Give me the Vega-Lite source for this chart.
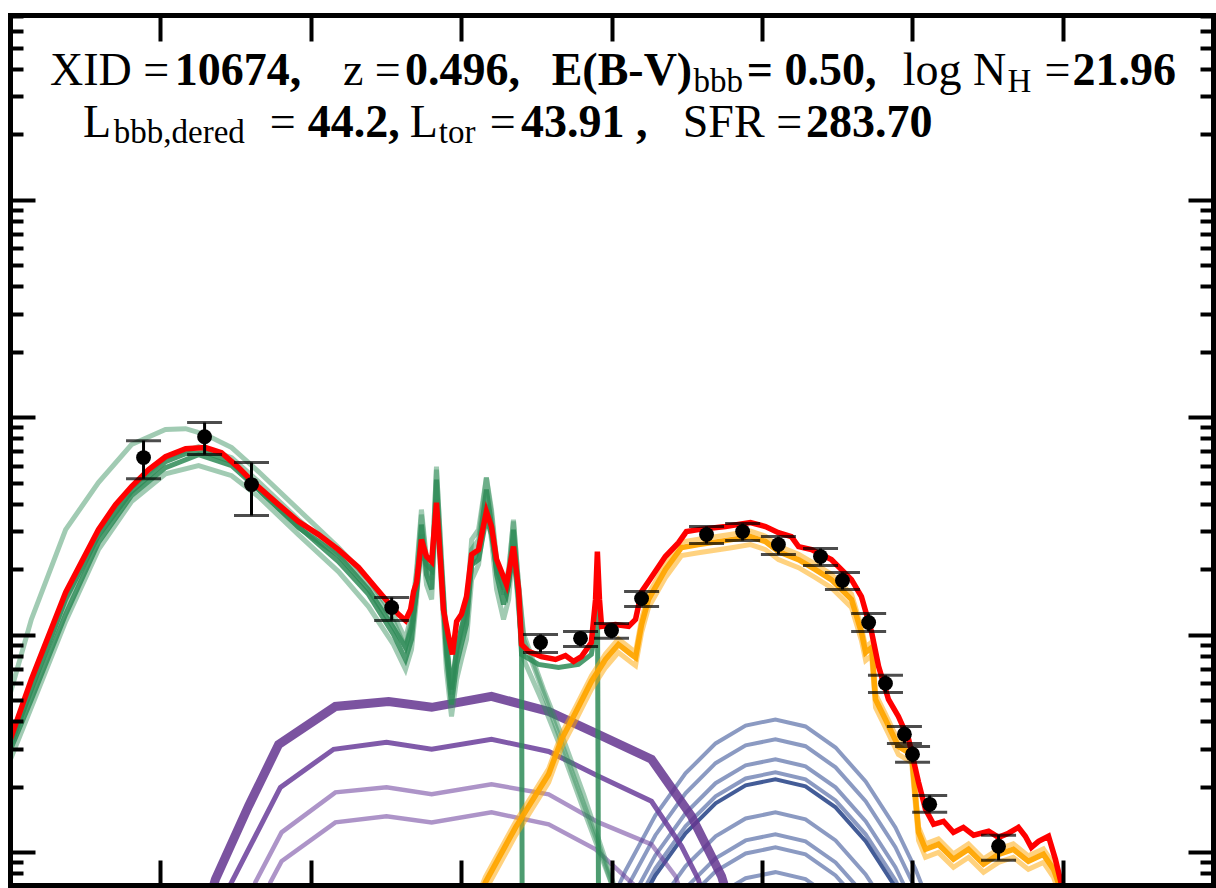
{
  "$schema": "https://vega.github.io/schema/vega-lite/v6.json",
  "width": 1203,
  "height": 870,
  "autosize": {"type": "none"},
  "padding": {"left": 10, "top": 15, "right": 3, "bottom": 3},
  "background": "white",
  "config": {"view": {"stroke": null}},
  "datasets": {
    "phot": [
      {"lognu": 12.444, "logL": 44.815, "lo": 44.718, "hi": 44.893},
      {"lognu": 12.647, "logL": 44.911, "lo": 44.829, "hi": 44.976},
      {"lognu": 12.803, "logL": 44.691, "lo": 44.549, "hi": 44.792},
      {"lognu": 13.269, "logL": 44.126, "lo": 44.066, "hi": 44.172},
      {"lognu": 13.764, "logL": 43.965, "lo": 43.919, "hi": 44.002},
      {"lognu": 13.897, "logL": 43.984, "lo": 43.947, "hi": 44.016},
      {"lognu": 14.000, "logL": 44.020, "lo": 43.984, "hi": 44.052},
      {"lognu": 14.100, "logL": 44.167, "lo": 44.131, "hi": 44.199},
      {"lognu": 14.316, "logL": 44.461, "lo": 44.420, "hi": 44.498},
      {"lognu": 14.436, "logL": 44.475, "lo": 44.434, "hi": 44.512},
      {"lognu": 14.555, "logL": 44.415, "lo": 44.369, "hi": 44.452},
      {"lognu": 14.695, "logL": 44.360, "lo": 44.319, "hi": 44.397},
      {"lognu": 14.768, "logL": 44.250, "lo": 44.209, "hi": 44.287},
      {"lognu": 14.855, "logL": 44.057, "lo": 44.016, "hi": 44.098},
      {"lognu": 14.911, "logL": 43.777, "lo": 43.735, "hi": 43.814},
      {"lognu": 14.974, "logL": 43.543, "lo": 43.501, "hi": 43.579},
      {"lognu": 15.001, "logL": 43.451, "lo": 43.414, "hi": 43.487},
      {"lognu": 15.058, "logL": 43.221, "lo": 43.184, "hi": 43.262},
      {"lognu": 15.287, "logL": 43.028, "lo": 42.964, "hi": 43.079}
    ],
    "total": [
      {"lognu": 11.995, "logL": 43.496}, {"lognu": 12.071, "logL": 43.795}, {"lognu": 12.185, "logL": 44.195},
      {"lognu": 12.294, "logL": 44.484}, {"lognu": 12.351, "logL": 44.599}, {"lognu": 12.404, "logL": 44.682},
      {"lognu": 12.461, "logL": 44.760}, {"lognu": 12.517, "logL": 44.819}, {"lognu": 12.584, "logL": 44.856},
      {"lognu": 12.650, "logL": 44.861}, {"lognu": 12.703, "logL": 44.838}, {"lognu": 12.760, "logL": 44.769},
      {"lognu": 12.810, "logL": 44.700}, {"lognu": 12.893, "logL": 44.599}, {"lognu": 12.959, "logL": 44.521},
      {"lognu": 13.026, "logL": 44.461}, {"lognu": 13.092, "logL": 44.392}, {"lognu": 13.159, "logL": 44.310},
      {"lognu": 13.235, "logL": 44.186}, {"lognu": 13.292, "logL": 44.094}, {"lognu": 13.315, "logL": 44.066},
      {"lognu": 13.332, "logL": 44.117}, {"lognu": 13.342, "logL": 44.199}, {"lognu": 13.352, "logL": 44.241},
      {"lognu": 13.368, "logL": 44.438}, {"lognu": 13.385, "logL": 44.360}, {"lognu": 13.402, "logL": 44.337},
      {"lognu": 13.418, "logL": 44.608}, {"lognu": 13.431, "logL": 44.346}, {"lognu": 13.441, "logL": 44.117},
      {"lognu": 13.458, "logL": 43.993}, {"lognu": 13.471, "logL": 43.910}, {"lognu": 13.485, "logL": 44.062},
      {"lognu": 13.501, "logL": 44.094}, {"lognu": 13.518, "logL": 44.176}, {"lognu": 13.535, "logL": 44.369},
      {"lognu": 13.558, "logL": 44.392}, {"lognu": 13.584, "logL": 44.567}, {"lognu": 13.601, "logL": 44.498},
      {"lognu": 13.618, "logL": 44.346}, {"lognu": 13.651, "logL": 44.231}, {"lognu": 13.674, "logL": 44.406},
      {"lognu": 13.691, "logL": 44.209}, {"lognu": 13.701, "logL": 43.956}, {"lognu": 13.724, "logL": 43.924},
      {"lognu": 13.767, "logL": 43.900}, {"lognu": 13.814, "logL": 43.887}, {"lognu": 13.847, "logL": 43.905},
      {"lognu": 13.874, "logL": 43.878}, {"lognu": 13.900, "logL": 43.900}, {"lognu": 13.933, "logL": 43.965},
      {"lognu": 13.947, "logL": 44.163}, {"lognu": 13.953, "logL": 44.383}, {"lognu": 13.960, "logL": 44.163},
      {"lognu": 13.967, "logL": 44.039}, {"lognu": 14.013, "logL": 44.048}, {"lognu": 14.057, "logL": 44.039},
      {"lognu": 14.080, "logL": 44.071}, {"lognu": 14.100, "logL": 44.199}, {"lognu": 14.123, "logL": 44.245},
      {"lognu": 14.179, "logL": 44.360}, {"lognu": 14.223, "logL": 44.424}, {"lognu": 14.249, "logL": 44.475},
      {"lognu": 14.289, "logL": 44.484}, {"lognu": 14.379, "logL": 44.498}, {"lognu": 14.462, "logL": 44.516},
      {"lognu": 14.512, "logL": 44.498}, {"lognu": 14.555, "logL": 44.470}, {"lognu": 14.598, "logL": 44.452},
      {"lognu": 14.622, "logL": 44.406}, {"lognu": 14.665, "logL": 44.392}, {"lognu": 14.731, "logL": 44.346},
      {"lognu": 14.798, "logL": 44.254}, {"lognu": 14.831, "logL": 44.176}, {"lognu": 14.865, "logL": 44.011},
      {"lognu": 14.888, "logL": 43.855}, {"lognu": 14.921, "logL": 43.703}, {"lognu": 14.954, "logL": 43.625},
      {"lognu": 14.988, "logL": 43.520}, {"lognu": 15.021, "logL": 43.322}, {"lognu": 15.044, "logL": 43.198},
      {"lognu": 15.071, "logL": 43.129}, {"lognu": 15.104, "logL": 43.143}, {"lognu": 15.137, "logL": 43.092},
      {"lognu": 15.170, "logL": 43.115}, {"lognu": 15.204, "logL": 43.079}, {"lognu": 15.254, "logL": 43.097},
      {"lognu": 15.287, "logL": 43.069}, {"lognu": 15.320, "logL": 43.088}, {"lognu": 15.353, "logL": 43.115},
      {"lognu": 15.376, "logL": 43.074}, {"lognu": 15.396, "logL": 43.023}, {"lognu": 15.420, "logL": 43.051},
      {"lognu": 15.453, "logL": 43.074}, {"lognu": 15.476, "logL": 42.968}, {"lognu": 15.496, "logL": 42.853},
      {"lognu": 15.503, "logL": 42.784}
    ],
    "starburst": [
      {"id": "A", "lognu": 11.995, "logL": 43.703}, {"id": "A", "lognu": 12.071, "logL": 44.071}, {"id": "A", "lognu": 12.185, "logL": 44.484},
      {"id": "A", "lognu": 12.294, "logL": 44.700}, {"id": "A", "lognu": 12.404, "logL": 44.875}, {"id": "A", "lognu": 12.517, "logL": 44.944},
      {"id": "A", "lognu": 12.584, "logL": 44.948}, {"id": "A", "lognu": 12.650, "logL": 44.921}, {"id": "A", "lognu": 12.737, "logL": 44.861},
      {"id": "A", "lognu": 12.826, "logL": 44.751}, {"id": "A", "lognu": 12.959, "logL": 44.576}, {"id": "A", "lognu": 13.092, "logL": 44.402},
      {"id": "A", "lognu": 13.192, "logL": 44.254}, {"id": "A", "lognu": 13.275, "logL": 44.094}, {"id": "A", "lognu": 13.315, "logL": 43.979},
      {"id": "A", "lognu": 13.335, "logL": 44.094}, {"id": "A", "lognu": 13.352, "logL": 44.300}, {"id": "A", "lognu": 13.368, "logL": 44.576},
      {"id": "A", "lognu": 13.385, "logL": 44.346}, {"id": "A", "lognu": 13.402, "logL": 44.277}, {"id": "A", "lognu": 13.418, "logL": 44.760},
      {"id": "A", "lognu": 13.435, "logL": 44.346}, {"id": "A", "lognu": 13.451, "logL": 43.979}, {"id": "A", "lognu": 13.468, "logL": 43.749},
      {"id": "A", "lognu": 13.485, "logL": 43.933}, {"id": "A", "lognu": 13.501, "logL": 44.025}, {"id": "A", "lognu": 13.518, "logL": 44.117},
      {"id": "A", "lognu": 13.535, "logL": 44.438}, {"id": "A", "lognu": 13.558, "logL": 44.484}, {"id": "A", "lognu": 13.584, "logL": 44.723},
      {"id": "A", "lognu": 13.601, "logL": 44.576}, {"id": "A", "lognu": 13.618, "logL": 44.346}, {"id": "A", "lognu": 13.641, "logL": 44.209},
      {"id": "A", "lognu": 13.658, "logL": 44.300}, {"id": "A", "lognu": 13.674, "logL": 44.521}, {"id": "A", "lognu": 13.691, "logL": 44.231},
      {"id": "A", "lognu": 13.708, "logL": 43.979}, {"id": "A", "lognu": 13.757, "logL": 43.795}, {"id": "A", "lognu": 13.824, "logL": 43.542},
      {"id": "A", "lognu": 13.890, "logL": 43.290}, {"id": "A", "lognu": 13.957, "logL": 43.037}, {"id": "A", "lognu": 14.007, "logL": 42.831},

      {"id": "B", "lognu": 11.995, "logL": 43.451}, {"id": "B", "lognu": 12.071, "logL": 43.703}, {"id": "B", "lognu": 12.185, "logL": 44.094},
      {"id": "B", "lognu": 12.294, "logL": 44.424}, {"id": "B", "lognu": 12.404, "logL": 44.640}, {"id": "B", "lognu": 12.517, "logL": 44.769},
      {"id": "B", "lognu": 12.627, "logL": 44.829}, {"id": "B", "lognu": 12.737, "logL": 44.778}, {"id": "B", "lognu": 12.826, "logL": 44.668},
      {"id": "B", "lognu": 12.959, "logL": 44.498}, {"id": "B", "lognu": 13.092, "logL": 44.337}, {"id": "B", "lognu": 13.192, "logL": 44.186},
      {"id": "B", "lognu": 13.275, "logL": 44.002}, {"id": "B", "lognu": 13.315, "logL": 43.887}, {"id": "B", "lognu": 13.335, "logL": 43.979},
      {"id": "B", "lognu": 13.352, "logL": 44.209}, {"id": "B", "lognu": 13.368, "logL": 44.507}, {"id": "B", "lognu": 13.385, "logL": 44.277},
      {"id": "B", "lognu": 13.402, "logL": 44.209}, {"id": "B", "lognu": 13.418, "logL": 44.714}, {"id": "B", "lognu": 13.435, "logL": 44.277},
      {"id": "B", "lognu": 13.451, "logL": 43.910}, {"id": "B", "lognu": 13.468, "logL": 43.680}, {"id": "B", "lognu": 13.485, "logL": 43.864},
      {"id": "B", "lognu": 13.501, "logL": 43.956}, {"id": "B", "lognu": 13.518, "logL": 44.048}, {"id": "B", "lognu": 13.535, "logL": 44.323},
      {"id": "B", "lognu": 13.558, "logL": 44.392}, {"id": "B", "lognu": 13.584, "logL": 44.668}, {"id": "B", "lognu": 13.601, "logL": 44.507},
      {"id": "B", "lognu": 13.618, "logL": 44.277}, {"id": "B", "lognu": 13.641, "logL": 44.140}, {"id": "B", "lognu": 13.658, "logL": 44.231},
      {"id": "B", "lognu": 13.674, "logL": 44.484}, {"id": "B", "lognu": 13.691, "logL": 44.186}, {"id": "B", "lognu": 13.701, "logL": 43.933},
      {"id": "B", "lognu": 13.703, "logL": 42.700},

      {"id": "C", "lognu": 11.995, "logL": 43.405}, {"id": "C", "lognu": 12.071, "logL": 43.667}, {"id": "C", "lognu": 12.185, "logL": 44.062},
      {"id": "C", "lognu": 12.294, "logL": 44.392}, {"id": "C", "lognu": 12.404, "logL": 44.613}, {"id": "C", "lognu": 12.517, "logL": 44.741},
      {"id": "C", "lognu": 12.627, "logL": 44.778}, {"id": "C", "lognu": 12.737, "logL": 44.732}, {"id": "C", "lognu": 12.826, "logL": 44.636},
      {"id": "C", "lognu": 12.959, "logL": 44.461}, {"id": "C", "lognu": 13.092, "logL": 44.291}, {"id": "C", "lognu": 13.192, "logL": 44.130},
      {"id": "C", "lognu": 13.275, "logL": 43.956}, {"id": "C", "lognu": 13.315, "logL": 43.841}, {"id": "C", "lognu": 13.335, "logL": 43.933},
      {"id": "C", "lognu": 13.352, "logL": 44.163}, {"id": "C", "lognu": 13.368, "logL": 44.461}, {"id": "C", "lognu": 13.385, "logL": 44.231},
      {"id": "C", "lognu": 13.402, "logL": 44.163}, {"id": "C", "lognu": 13.418, "logL": 44.622}, {"id": "C", "lognu": 13.435, "logL": 44.209},
      {"id": "C", "lognu": 13.451, "logL": 43.841}, {"id": "C", "lognu": 13.468, "logL": 43.625}, {"id": "C", "lognu": 13.485, "logL": 43.795},
      {"id": "C", "lognu": 13.501, "logL": 43.887}, {"id": "C", "lognu": 13.518, "logL": 43.979}, {"id": "C", "lognu": 13.535, "logL": 44.254},
      {"id": "C", "lognu": 13.558, "logL": 44.323}, {"id": "C", "lognu": 13.584, "logL": 44.599}, {"id": "C", "lognu": 13.601, "logL": 44.438},
      {"id": "C", "lognu": 13.618, "logL": 44.209}, {"id": "C", "lognu": 13.641, "logL": 44.071}, {"id": "C", "lognu": 13.658, "logL": 44.163},
      {"id": "C", "lognu": 13.674, "logL": 44.415}, {"id": "C", "lognu": 13.691, "logL": 44.117}, {"id": "C", "lognu": 13.708, "logL": 43.887},
      {"id": "C", "lognu": 13.774, "logL": 43.680}, {"id": "C", "lognu": 13.840, "logL": 43.451}, {"id": "C", "lognu": 13.907, "logL": 43.198},
      {"id": "C", "lognu": 13.957, "logL": 43.014}, {"id": "C", "lognu": 14.007, "logL": 42.831},

      {"id": "D", "lognu": 11.995, "logL": 43.496}, {"id": "D", "lognu": 12.071, "logL": 43.758}, {"id": "D", "lognu": 12.185, "logL": 44.140},
      {"id": "D", "lognu": 12.294, "logL": 44.461}, {"id": "D", "lognu": 12.404, "logL": 44.677}, {"id": "D", "lognu": 12.517, "logL": 44.815},
      {"id": "D", "lognu": 12.627, "logL": 44.865}, {"id": "D", "lognu": 12.737, "logL": 44.815}, {"id": "D", "lognu": 12.826, "logL": 44.705},
      {"id": "D", "lognu": 12.959, "logL": 44.530}, {"id": "D", "lognu": 13.092, "logL": 44.374}, {"id": "D", "lognu": 13.192, "logL": 44.227},
      {"id": "D", "lognu": 13.275, "logL": 44.062}, {"id": "D", "lognu": 13.315, "logL": 43.942}, {"id": "D", "lognu": 13.335, "logL": 44.062},
      {"id": "D", "lognu": 13.352, "logL": 44.277}, {"id": "D", "lognu": 13.368, "logL": 44.553}, {"id": "D", "lognu": 13.385, "logL": 44.323},
      {"id": "D", "lognu": 13.402, "logL": 44.254}, {"id": "D", "lognu": 13.418, "logL": 44.774}, {"id": "D", "lognu": 13.435, "logL": 44.323},
      {"id": "D", "lognu": 13.451, "logL": 43.956}, {"id": "D", "lognu": 13.468, "logL": 43.726}, {"id": "D", "lognu": 13.485, "logL": 43.910},
      {"id": "D", "lognu": 13.501, "logL": 44.002}, {"id": "D", "lognu": 13.518, "logL": 44.094}, {"id": "D", "lognu": 13.535, "logL": 44.392},
      {"id": "D", "lognu": 13.558, "logL": 44.438}, {"id": "D", "lognu": 13.584, "logL": 44.723}, {"id": "D", "lognu": 13.601, "logL": 44.553},
      {"id": "D", "lognu": 13.618, "logL": 44.323}, {"id": "D", "lognu": 13.641, "logL": 44.186}, {"id": "D", "lognu": 13.658, "logL": 44.277},
      {"id": "D", "lognu": 13.674, "logL": 44.530}, {"id": "D", "lognu": 13.691, "logL": 44.231}, {"id": "D", "lognu": 13.708, "logL": 44.002},
      {"id": "D", "lognu": 13.774, "logL": 43.749}, {"id": "D", "lognu": 13.840, "logL": 43.520}, {"id": "D", "lognu": 13.907, "logL": 43.267},
      {"id": "D", "lognu": 13.957, "logL": 43.060}, {"id": "D", "lognu": 14.007, "logL": 42.853},

      {"id": "E", "lognu": 11.995, "logL": 43.464}, {"id": "E", "lognu": 12.071, "logL": 43.749}, {"id": "E", "lognu": 12.185, "logL": 44.163},
      {"id": "E", "lognu": 12.294, "logL": 44.457}, {"id": "E", "lognu": 12.404, "logL": 44.659}, {"id": "E", "lognu": 12.517, "logL": 44.796},
      {"id": "E", "lognu": 12.584, "logL": 44.833}, {"id": "E", "lognu": 12.650, "logL": 44.838}, {"id": "E", "lognu": 12.737, "logL": 44.796},
      {"id": "E", "lognu": 12.826, "logL": 44.668}, {"id": "E", "lognu": 12.959, "logL": 44.493}, {"id": "E", "lognu": 13.092, "logL": 44.365},
      {"id": "E", "lognu": 13.192, "logL": 44.209}, {"id": "E", "lognu": 13.275, "logL": 44.034}, {"id": "E", "lognu": 13.315, "logL": 43.942},
      {"id": "E", "lognu": 13.335, "logL": 44.034}, {"id": "E", "lognu": 13.352, "logL": 44.199}, {"id": "E", "lognu": 13.368, "logL": 44.402},
      {"id": "E", "lognu": 13.385, "logL": 44.323}, {"id": "E", "lognu": 13.402, "logL": 44.300}, {"id": "E", "lognu": 13.418, "logL": 44.576},
      {"id": "E", "lognu": 13.435, "logL": 44.300}, {"id": "E", "lognu": 13.451, "logL": 43.956}, {"id": "E", "lognu": 13.468, "logL": 43.749},
      {"id": "E", "lognu": 13.485, "logL": 43.933}, {"id": "E", "lognu": 13.501, "logL": 44.034}, {"id": "E", "lognu": 13.518, "logL": 44.126},
      {"id": "E", "lognu": 13.535, "logL": 44.323}, {"id": "E", "lognu": 13.558, "logL": 44.346}, {"id": "E", "lognu": 13.584, "logL": 44.539},
      {"id": "E", "lognu": 13.601, "logL": 44.461}, {"id": "E", "lognu": 13.618, "logL": 44.300}, {"id": "E", "lognu": 13.651, "logL": 44.186},
      {"id": "E", "lognu": 13.674, "logL": 44.369}, {"id": "E", "lognu": 13.691, "logL": 44.163}, {"id": "E", "lognu": 13.701, "logL": 43.910},
      {"id": "E", "lognu": 13.757, "logL": 43.864}, {"id": "E", "lognu": 13.824, "logL": 43.850}, {"id": "E", "lognu": 13.890, "logL": 43.864},
      {"id": "E", "lognu": 13.933, "logL": 43.910}, {"id": "E", "lognu": 13.947, "logL": 44.025}, {"id": "E", "lognu": 13.953, "logL": 44.323},
      {"id": "E", "lognu": 13.957, "logL": 42.700}
    ],
    "host": [
      {"id": "O1", "lognu": 13.558, "logL": 42.784}, {"id": "O1", "lognu": 13.581, "logL": 42.863}, {"id": "O1", "lognu": 13.681, "logL": 43.115},
      {"id": "O1", "lognu": 13.791, "logL": 43.359}, {"id": "O1", "lognu": 13.834, "logL": 43.520}, {"id": "O1", "lognu": 13.881, "logL": 43.644},
      {"id": "O1", "lognu": 13.933, "logL": 43.786}, {"id": "O1", "lognu": 13.980, "logL": 43.887}, {"id": "O1", "lognu": 14.023, "logL": 43.956},
      {"id": "O1", "lognu": 14.066, "logL": 43.910}, {"id": "O1", "lognu": 14.080, "logL": 43.896}, {"id": "O1", "lognu": 14.100, "logL": 44.048},
      {"id": "O1", "lognu": 14.123, "logL": 44.163}, {"id": "O1", "lognu": 14.179, "logL": 44.300}, {"id": "O1", "lognu": 14.233, "logL": 44.402},
      {"id": "O1", "lognu": 14.289, "logL": 44.415}, {"id": "O1", "lognu": 14.399, "logL": 44.438}, {"id": "O1", "lognu": 14.462, "logL": 44.452},
      {"id": "O1", "lognu": 14.512, "logL": 44.429}, {"id": "O1", "lognu": 14.555, "logL": 44.383}, {"id": "O1", "lognu": 14.622, "logL": 44.346},
      {"id": "O1", "lognu": 14.678, "logL": 44.300}, {"id": "O1", "lognu": 14.731, "logL": 44.254}, {"id": "O1", "lognu": 14.798, "logL": 44.163},
      {"id": "O1", "lognu": 14.831, "logL": 44.011}, {"id": "O1", "lognu": 14.845, "logL": 43.919}, {"id": "O1", "lognu": 14.865, "logL": 43.942},
      {"id": "O1", "lognu": 14.878, "logL": 43.703}, {"id": "O1", "lognu": 14.911, "logL": 43.611}, {"id": "O1", "lognu": 14.954, "logL": 43.487},
      {"id": "O1", "lognu": 14.998, "logL": 43.451}, {"id": "O1", "lognu": 15.021, "logL": 43.092}, {"id": "O1", "lognu": 15.044, "logL": 43.014},
      {"id": "O1", "lognu": 15.087, "logL": 43.037}, {"id": "O1", "lognu": 15.137, "logL": 42.968}, {"id": "O1", "lognu": 15.187, "logL": 43.014},
      {"id": "O1", "lognu": 15.237, "logL": 42.945}, {"id": "O1", "lognu": 15.287, "logL": 42.991}, {"id": "O1", "lognu": 15.336, "logL": 43.014},
      {"id": "O1", "lognu": 15.386, "logL": 42.959}, {"id": "O1", "lognu": 15.436, "logL": 42.991}, {"id": "O1", "lognu": 15.470, "logL": 42.922},
      {"id": "O1", "lognu": 15.493, "logL": 42.831},

      {"id": "O2", "lognu": 13.558, "logL": 42.747}, {"id": "O2", "lognu": 13.581, "logL": 42.826}, {"id": "O2", "lognu": 13.681, "logL": 43.078},
      {"id": "O2", "lognu": 13.791, "logL": 43.322}, {"id": "O2", "lognu": 13.834, "logL": 43.483}, {"id": "O2", "lognu": 13.881, "logL": 43.607},
      {"id": "O2", "lognu": 13.933, "logL": 43.749}, {"id": "O2", "lognu": 13.980, "logL": 43.850}, {"id": "O2", "lognu": 14.023, "logL": 43.919},
      {"id": "O2", "lognu": 14.066, "logL": 43.873}, {"id": "O2", "lognu": 14.080, "logL": 43.859}, {"id": "O2", "lognu": 14.100, "logL": 44.011},
      {"id": "O2", "lognu": 14.123, "logL": 44.126}, {"id": "O2", "lognu": 14.179, "logL": 44.263}, {"id": "O2", "lognu": 14.233, "logL": 44.365},
      {"id": "O2", "lognu": 14.289, "logL": 44.378}, {"id": "O2", "lognu": 14.399, "logL": 44.401}, {"id": "O2", "lognu": 14.462, "logL": 44.415},
      {"id": "O2", "lognu": 14.512, "logL": 44.392}, {"id": "O2", "lognu": 14.555, "logL": 44.346}, {"id": "O2", "lognu": 14.622, "logL": 44.309},
      {"id": "O2", "lognu": 14.678, "logL": 44.263}, {"id": "O2", "lognu": 14.731, "logL": 44.217}, {"id": "O2", "lognu": 14.798, "logL": 44.126},
      {"id": "O2", "lognu": 14.831, "logL": 43.974}, {"id": "O2", "lognu": 14.845, "logL": 43.882}, {"id": "O2", "lognu": 14.865, "logL": 43.905},
      {"id": "O2", "lognu": 14.878, "logL": 43.666}, {"id": "O2", "lognu": 14.911, "logL": 43.574}, {"id": "O2", "lognu": 14.954, "logL": 43.450},
      {"id": "O2", "lognu": 14.998, "logL": 43.414}, {"id": "O2", "lognu": 15.021, "logL": 43.055}, {"id": "O2", "lognu": 15.044, "logL": 42.977},
      {"id": "O2", "lognu": 15.087, "logL": 43.000}, {"id": "O2", "lognu": 15.137, "logL": 42.931}, {"id": "O2", "lognu": 15.187, "logL": 42.977},
      {"id": "O2", "lognu": 15.237, "logL": 42.908}, {"id": "O2", "lognu": 15.287, "logL": 42.954}, {"id": "O2", "lognu": 15.336, "logL": 42.977},
      {"id": "O2", "lognu": 15.386, "logL": 42.922}, {"id": "O2", "lognu": 15.436, "logL": 42.954}, {"id": "O2", "lognu": 15.470, "logL": 42.885},
      {"id": "O2", "lognu": 15.493, "logL": 42.794},

      {"id": "O3", "lognu": 13.558, "logL": 42.809}, {"id": "O3", "lognu": 13.581, "logL": 42.888}, {"id": "O3", "lognu": 13.681, "logL": 43.140},
      {"id": "O3", "lognu": 13.791, "logL": 43.384}, {"id": "O3", "lognu": 13.834, "logL": 43.545}, {"id": "O3", "lognu": 13.881, "logL": 43.669},
      {"id": "O3", "lognu": 13.933, "logL": 43.811}, {"id": "O3", "lognu": 13.980, "logL": 43.912}, {"id": "O3", "lognu": 14.023, "logL": 43.981},
      {"id": "O3", "lognu": 14.066, "logL": 43.935}, {"id": "O3", "lognu": 14.080, "logL": 43.921}, {"id": "O3", "lognu": 14.100, "logL": 44.073},
      {"id": "O3", "lognu": 14.123, "logL": 44.188}, {"id": "O3", "lognu": 14.179, "logL": 44.325}, {"id": "O3", "lognu": 14.233, "logL": 44.427},
      {"id": "O3", "lognu": 14.289, "logL": 44.440}, {"id": "O3", "lognu": 14.399, "logL": 44.463}, {"id": "O3", "lognu": 14.462, "logL": 44.477},
      {"id": "O3", "lognu": 14.512, "logL": 44.454}, {"id": "O3", "lognu": 14.555, "logL": 44.408}, {"id": "O3", "lognu": 14.622, "logL": 44.371},
      {"id": "O3", "lognu": 14.678, "logL": 44.325}, {"id": "O3", "lognu": 14.731, "logL": 44.279}, {"id": "O3", "lognu": 14.798, "logL": 44.188},
      {"id": "O3", "lognu": 14.831, "logL": 44.036}, {"id": "O3", "lognu": 14.845, "logL": 43.944}, {"id": "O3", "lognu": 14.865, "logL": 43.967},
      {"id": "O3", "lognu": 14.878, "logL": 43.728}, {"id": "O3", "lognu": 14.911, "logL": 43.636}, {"id": "O3", "lognu": 14.954, "logL": 43.512},
      {"id": "O3", "lognu": 14.998, "logL": 43.476}, {"id": "O3", "lognu": 15.021, "logL": 43.117}, {"id": "O3", "lognu": 15.044, "logL": 43.039},
      {"id": "O3", "lognu": 15.087, "logL": 43.062}, {"id": "O3", "lognu": 15.137, "logL": 42.993}, {"id": "O3", "lognu": 15.187, "logL": 43.039},
      {"id": "O3", "lognu": 15.237, "logL": 42.970}, {"id": "O3", "lognu": 15.287, "logL": 43.016}, {"id": "O3", "lognu": 15.336, "logL": 43.039},
      {"id": "O3", "lognu": 15.386, "logL": 42.984}, {"id": "O3", "lognu": 15.436, "logL": 43.016}, {"id": "O3", "lognu": 15.470, "logL": 42.947},
      {"id": "O3", "lognu": 15.493, "logL": 42.856}
    ],
    "torus": [
      {"id": "P1", "lognu": 12.643, "logL": 42.693}, {"id": "P1", "lognu": 12.683, "logL": 42.876}, {"id": "P1", "lognu": 12.793, "logL": 43.212},
      {"id": "P1", "lognu": 12.893, "logL": 43.496}, {"id": "P1", "lognu": 13.082, "logL": 43.671}, {"id": "P1", "lognu": 13.259, "logL": 43.694},
      {"id": "P1", "lognu": 13.402, "logL": 43.667}, {"id": "P1", "lognu": 13.601, "logL": 43.717}, {"id": "P1", "lognu": 13.791, "logL": 43.648},
      {"id": "P1", "lognu": 13.957, "logL": 43.542}, {"id": "P1", "lognu": 14.133, "logL": 43.428}, {"id": "P1", "lognu": 14.266, "logL": 43.166},
      {"id": "P1", "lognu": 14.366, "logL": 42.890}, {"id": "P1", "lognu": 14.389, "logL": 42.784},

      {"id": "P2", "lognu": 12.666, "logL": 42.693}, {"id": "P2", "lognu": 12.737, "logL": 42.863}, {"id": "P2", "lognu": 12.899, "logL": 43.299},
      {"id": "P2", "lognu": 13.076, "logL": 43.474}, {"id": "P2", "lognu": 13.252, "logL": 43.506}, {"id": "P2", "lognu": 13.402, "logL": 43.474},
      {"id": "P2", "lognu": 13.601, "logL": 43.520}, {"id": "P2", "lognu": 13.791, "logL": 43.464}, {"id": "P2", "lognu": 13.957, "logL": 43.350},
      {"id": "P2", "lognu": 14.133, "logL": 43.235}, {"id": "P2", "lognu": 14.233, "logL": 43.028}, {"id": "P2", "lognu": 14.289, "logL": 42.876},
      {"id": "P2", "lognu": 14.306, "logL": 42.784},

      {"id": "P3", "lognu": 12.793, "logL": 42.739}, {"id": "P3", "lognu": 12.816, "logL": 42.863}, {"id": "P3", "lognu": 12.903, "logL": 43.092},
      {"id": "P3", "lognu": 13.082, "logL": 43.276}, {"id": "P3", "lognu": 13.252, "logL": 43.299}, {"id": "P3", "lognu": 13.402, "logL": 43.267},
      {"id": "P3", "lognu": 13.601, "logL": 43.313}, {"id": "P3", "lognu": 13.791, "logL": 43.267}, {"id": "P3", "lognu": 13.957, "logL": 43.138},
      {"id": "P3", "lognu": 14.133, "logL": 43.037}, {"id": "P3", "lognu": 14.213, "logL": 42.890}, {"id": "P3", "lognu": 14.233, "logL": 42.807},

      {"id": "P4", "lognu": 12.846, "logL": 42.784}, {"id": "P4", "lognu": 12.866, "logL": 42.863}, {"id": "P4", "lognu": 12.903, "logL": 42.959},
      {"id": "P4", "lognu": 13.082, "logL": 43.138}, {"id": "P4", "lognu": 13.252, "logL": 43.166}, {"id": "P4", "lognu": 13.402, "logL": 43.138},
      {"id": "P4", "lognu": 13.601, "logL": 43.184}, {"id": "P4", "lognu": 13.791, "logL": 43.129}, {"id": "P4", "lognu": 13.947, "logL": 43.014},
      {"id": "P4", "lognu": 14.090, "logL": 42.831}
    ],
    "bbb": [
      {"id": "B1", "lognu": 13.880, "logL": 42.380}, {"id": "B1", "lognu": 13.947, "logL": 42.614}, {"id": "B1", "lognu": 14.047, "logL": 42.917},
      {"id": "B1", "lognu": 14.146, "logL": 43.170}, {"id": "B1", "lognu": 14.246, "logL": 43.363}, {"id": "B1", "lognu": 14.346, "logL": 43.501},
      {"id": "B1", "lognu": 14.446, "logL": 43.583}, {"id": "B1", "lognu": 14.545, "logL": 43.611}, {"id": "B1", "lognu": 14.645, "logL": 43.579},
      {"id": "B1", "lognu": 14.745, "logL": 43.482}, {"id": "B1", "lognu": 14.845, "logL": 43.326}, {"id": "B1", "lognu": 14.944, "logL": 43.115},
      {"id": "B1", "lognu": 15.011, "logL": 42.922}, {"id": "B1", "lognu": 15.077, "logL": 42.692},

      {"id": "B2", "lognu": 13.880, "logL": 42.289}, {"id": "B2", "lognu": 13.947, "logL": 42.523}, {"id": "B2", "lognu": 14.047, "logL": 42.826},
      {"id": "B2", "lognu": 14.146, "logL": 43.079}, {"id": "B2", "lognu": 14.246, "logL": 43.272}, {"id": "B2", "lognu": 14.346, "logL": 43.410},
      {"id": "B2", "lognu": 14.446, "logL": 43.492}, {"id": "B2", "lognu": 14.545, "logL": 43.520}, {"id": "B2", "lognu": 14.645, "logL": 43.488},
      {"id": "B2", "lognu": 14.745, "logL": 43.391}, {"id": "B2", "lognu": 14.845, "logL": 43.235}, {"id": "B2", "lognu": 14.944, "logL": 43.024},
      {"id": "B2", "lognu": 15.011, "logL": 42.831}, {"id": "B2", "lognu": 15.077, "logL": 42.601},

      {"id": "B3", "lognu": 13.880, "logL": 42.197}, {"id": "B3", "lognu": 13.947, "logL": 42.431}, {"id": "B3", "lognu": 14.047, "logL": 42.734},
      {"id": "B3", "lognu": 14.146, "logL": 42.987}, {"id": "B3", "lognu": 14.246, "logL": 43.180}, {"id": "B3", "lognu": 14.346, "logL": 43.318},
      {"id": "B3", "lognu": 14.446, "logL": 43.400}, {"id": "B3", "lognu": 14.545, "logL": 43.428}, {"id": "B3", "lognu": 14.645, "logL": 43.396},
      {"id": "B3", "lognu": 14.745, "logL": 43.299}, {"id": "B3", "lognu": 14.845, "logL": 43.143}, {"id": "B3", "lognu": 14.944, "logL": 42.932},
      {"id": "B3", "lognu": 15.011, "logL": 42.739}, {"id": "B3", "lognu": 15.077, "logL": 42.509},

      {"id": "B4", "lognu": 13.880, "logL": 42.137}, {"id": "B4", "lognu": 13.947, "logL": 42.371}, {"id": "B4", "lognu": 14.047, "logL": 42.674},
      {"id": "B4", "lognu": 14.146, "logL": 42.927}, {"id": "B4", "lognu": 14.246, "logL": 43.120}, {"id": "B4", "lognu": 14.346, "logL": 43.258},
      {"id": "B4", "lognu": 14.446, "logL": 43.340}, {"id": "B4", "lognu": 14.545, "logL": 43.368}, {"id": "B4", "lognu": 14.645, "logL": 43.336},
      {"id": "B4", "lognu": 14.745, "logL": 43.239}, {"id": "B4", "lognu": 14.845, "logL": 43.083}, {"id": "B4", "lognu": 14.944, "logL": 42.872},
      {"id": "B4", "lognu": 15.011, "logL": 42.679}, {"id": "B4", "lognu": 15.077, "logL": 42.449},

      {"id": "B5", "lognu": 13.880, "logL": 42.105}, {"id": "B5", "lognu": 13.947, "logL": 42.339}, {"id": "B5", "lognu": 14.047, "logL": 42.642},
      {"id": "B5", "lognu": 14.146, "logL": 42.895}, {"id": "B5", "lognu": 14.246, "logL": 43.088}, {"id": "B5", "lognu": 14.346, "logL": 43.226},
      {"id": "B5", "lognu": 14.446, "logL": 43.308}, {"id": "B5", "lognu": 14.545, "logL": 43.336}, {"id": "B5", "lognu": 14.645, "logL": 43.304},
      {"id": "B5", "lognu": 14.745, "logL": 43.207}, {"id": "B5", "lognu": 14.845, "logL": 43.051}, {"id": "B5", "lognu": 14.944, "logL": 42.840},
      {"id": "B5", "lognu": 15.011, "logL": 42.647}, {"id": "B5", "lognu": 15.077, "logL": 42.417},

      {"id": "B6", "lognu": 13.880, "logL": 41.953}, {"id": "B6", "lognu": 13.947, "logL": 42.187}, {"id": "B6", "lognu": 14.047, "logL": 42.490},
      {"id": "B6", "lognu": 14.146, "logL": 42.743}, {"id": "B6", "lognu": 14.246, "logL": 42.936}, {"id": "B6", "lognu": 14.346, "logL": 43.074},
      {"id": "B6", "lognu": 14.446, "logL": 43.156}, {"id": "B6", "lognu": 14.545, "logL": 43.184}, {"id": "B6", "lognu": 14.645, "logL": 43.152},
      {"id": "B6", "lognu": 14.745, "logL": 43.055}, {"id": "B6", "lognu": 14.845, "logL": 42.899}, {"id": "B6", "lognu": 14.944, "logL": 42.688},
      {"id": "B6", "lognu": 15.011, "logL": 42.495}, {"id": "B6", "lognu": 15.077, "logL": 42.265},

      {"id": "B7", "lognu": 13.880, "logL": 41.852}, {"id": "B7", "lognu": 13.947, "logL": 42.086}, {"id": "B7", "lognu": 14.047, "logL": 42.389},
      {"id": "B7", "lognu": 14.146, "logL": 42.642}, {"id": "B7", "lognu": 14.246, "logL": 42.835}, {"id": "B7", "lognu": 14.346, "logL": 42.973},
      {"id": "B7", "lognu": 14.446, "logL": 43.055}, {"id": "B7", "lognu": 14.545, "logL": 43.083}, {"id": "B7", "lognu": 14.645, "logL": 43.051},
      {"id": "B7", "lognu": 14.745, "logL": 42.954}, {"id": "B7", "lognu": 14.845, "logL": 42.798}, {"id": "B7", "lognu": 14.944, "logL": 42.587},
      {"id": "B7", "lognu": 15.011, "logL": 42.394}, {"id": "B7", "lognu": 15.077, "logL": 42.164},

      {"id": "B8", "lognu": 13.880, "logL": 41.792}, {"id": "B8", "lognu": 13.947, "logL": 42.026}, {"id": "B8", "lognu": 14.047, "logL": 42.329},
      {"id": "B8", "lognu": 14.146, "logL": 42.582}, {"id": "B8", "lognu": 14.246, "logL": 42.775}, {"id": "B8", "lognu": 14.346, "logL": 42.913},
      {"id": "B8", "lognu": 14.446, "logL": 42.995}, {"id": "B8", "lognu": 14.545, "logL": 43.023}, {"id": "B8", "lognu": 14.645, "logL": 42.991},
      {"id": "B8", "lognu": 14.745, "logL": 42.894}, {"id": "B8", "lognu": 14.845, "logL": 42.738}, {"id": "B8", "lognu": 14.944, "logL": 42.527},
      {"id": "B8", "lognu": 15.011, "logL": 42.334}, {"id": "B8", "lognu": 15.077, "logL": 42.104},

      {"id": "B9", "lognu": 13.880, "logL": 41.678}, {"id": "B9", "lognu": 13.947, "logL": 41.912}, {"id": "B9", "lognu": 14.047, "logL": 42.215},
      {"id": "B9", "lognu": 14.146, "logL": 42.468}, {"id": "B9", "lognu": 14.246, "logL": 42.661}, {"id": "B9", "lognu": 14.346, "logL": 42.799},
      {"id": "B9", "lognu": 14.446, "logL": 42.881}, {"id": "B9", "lognu": 14.545, "logL": 42.909}, {"id": "B9", "lognu": 14.645, "logL": 42.877},
      {"id": "B9", "lognu": 14.745, "logL": 42.780}, {"id": "B9", "lognu": 14.845, "logL": 42.624}, {"id": "B9", "lognu": 14.944, "logL": 42.413},
      {"id": "B9", "lognu": 15.011, "logL": 42.220}, {"id": "B9", "lognu": 15.077, "logL": 41.990}
    ],
    "anchor": [{}]
  },
  "layer": [
    {
      "encoding": {
        "x": {
          "field": "lognu", "type": "quantitative", "title": null,
          "scale": {"domain": [12, 16], "nice": false, "zero": false},
          "axis": {"orient": "bottom", "values": [12.5, 13, 13.5, 14, 14.5, 15, 15.5], "tickSize": -25, "labels": false, "grid": false, "title": null,
                   "domainColor": "black", "domainWidth": 5, "domainCap": "square", "tickColor": "black", "tickWidth": 4, "zindex": 1}
        },
        "y": {
          "field": "logL", "type": "quantitative", "title": null,
          "scale": {"domain": [42.85, 46.85], "nice": false, "zero": false},
          "axis": {"orient": "left",
                   "values": [42.90309, 42.95424, 43, 43.30103, 43.47712, 43.60206, 43.69897, 43.77815, 43.8451, 43.90309, 43.95424,
                              44, 44.30103, 44.47712, 44.60206, 44.69897, 44.77815, 44.8451, 44.90309, 44.95424,
                              45, 45.30103, 45.47712, 45.60206, 45.69897, 45.77815, 45.8451, 45.90309, 45.95424,
                              46, 46.30103, 46.47712, 46.60206, 46.69897, 46.77815, 46.8451],
                   "tickSize": {"condition": {"test": "abs(datum.value - round(datum.value)) < 0.001", "value": -25}, "value": -13},
                   "labels": false, "grid": false, "title": null,
                   "domainColor": "black", "domainWidth": 5, "domainCap": "square", "tickColor": "black", "tickWidth": 4, "zindex": 1}
        }
      },
      "layer": [
        {"data": {"name": "bbb"}, "transform": [{"filter": "datum.id != 'B5'"}],
         "mark": {"type": "line", "color": "#3d5799", "opacity": 0.6, "strokeWidth": 4, "clip": true},
         "encoding": {"detail": {"field": "id"}}},
        {"data": {"name": "bbb"}, "transform": [{"filter": "datum.id == 'B5'"}],
         "mark": {"type": "line", "color": "#2f4a8c", "opacity": 0.9, "strokeWidth": 4, "clip": true},
         "encoding": {"detail": {"field": "id"}}},
        {"data": {"name": "torus"}, "transform": [{"filter": "datum.id == 'P3' || datum.id == 'P4'"}],
         "mark": {"type": "line", "color": "#6a3d9a", "opacity": 0.55, "strokeWidth": 4.5, "clip": true},
         "encoding": {"detail": {"field": "id"}}},
        {"data": {"name": "torus"}, "transform": [{"filter": "datum.id == 'P2'"}],
         "mark": {"type": "line", "color": "#6a3d9a", "opacity": 0.85, "strokeWidth": 5, "clip": true},
         "encoding": {}},
        {"data": {"name": "torus"}, "transform": [{"filter": "datum.id == 'P1'"}],
         "mark": {"type": "line", "color": "#64358f", "opacity": 0.85, "strokeWidth": 9, "clip": true},
         "encoding": {}},
        {"data": {"name": "starburst"}, "transform": [{"filter": "datum.id == 'A' || datum.id == 'C' || datum.id == 'D'"}],
         "mark": {"type": "line", "color": "#2e8b57", "opacity": 0.45, "strokeWidth": 5, "clip": true},
         "encoding": {"detail": {"field": "id"}}},
        {"data": {"name": "starburst"}, "transform": [{"filter": "datum.id == 'B' || datum.id == 'E'"}],
         "mark": {"type": "line", "color": "#2e8b57", "opacity": 0.85, "strokeWidth": 5, "clip": true},
         "encoding": {"detail": {"field": "id"}}},
        {"data": {"name": "host"}, "transform": [{"filter": "datum.id != 'O1'"}],
         "mark": {"type": "line", "color": "#ffa500", "opacity": 0.5, "strokeWidth": 5, "clip": true},
         "encoding": {"detail": {"field": "id"}}},
        {"data": {"name": "host"}, "transform": [{"filter": "datum.id == 'O1'"}],
         "mark": {"type": "line", "color": "#ffa500", "opacity": 0.95, "strokeWidth": 5.5, "clip": true},
         "encoding": {}},
        {"data": {"name": "total"},
         "mark": {"type": "line", "color": "#ff0000", "strokeWidth": 5.5, "clip": true},
         "encoding": {}},
        {"data": {"name": "phot"},
         "mark": {"type": "errorbar", "color": "black", "thickness": 3, "ticks": {"size": 35, "thickness": 3}},
         "encoding": {"y": {"field": "lo", "type": "quantitative", "title": null}, "y2": {"field": "hi"}}}
      ]
    },
    {
      "data": {"name": "anchor"},
      "layer": [
        {"mark": {"type": "text", "text": "XID =", "font": "Liberation Serif", "fontSize": 46, "align": "left", "baseline": "alphabetic", "color": "black"},
         "encoding": {"x": {"datum": 12.133, "type": "quantitative", "axis": null}, "y": {"datum": 46.528, "type": "quantitative", "axis": null}}},
        {"mark": {"type": "text", "text": "10674,", "font": "Liberation Serif", "fontSize": 46, "fontWeight": "bold", "align": "left", "baseline": "alphabetic", "color": "black"},
         "encoding": {"x": {"datum": 12.548, "type": "quantitative", "axis": null}, "y": {"datum": 46.528, "type": "quantitative", "axis": null}}},
        {"mark": {"type": "text", "text": "z =", "font": "Liberation Serif", "fontSize": 46, "align": "left", "baseline": "alphabetic", "color": "black"},
         "encoding": {"x": {"datum": 13.107, "type": "quantitative", "axis": null}, "y": {"datum": 46.528, "type": "quantitative", "axis": null}}},
        {"mark": {"type": "text", "text": "0.496,", "font": "Liberation Serif", "fontSize": 46, "fontWeight": "bold", "align": "left", "baseline": "alphabetic", "color": "black"},
         "encoding": {"x": {"datum": 13.313, "type": "quantitative", "axis": null}, "y": {"datum": 46.528, "type": "quantitative", "axis": null}}},
        {"mark": {"type": "text", "text": "E(B-V)", "font": "Liberation Serif", "fontSize": 46, "fontWeight": "bold", "align": "left", "baseline": "alphabetic", "color": "black"},
         "encoding": {"x": {"datum": 13.801, "type": "quantitative", "axis": null}, "y": {"datum": 46.528, "type": "quantitative", "axis": null}}},
        {"mark": {"type": "text", "text": "bbb", "font": "Liberation Serif", "fontSize": 33, "align": "left", "baseline": "alphabetic", "color": "black"},
         "encoding": {"x": {"datum": 14.273, "type": "quantitative", "axis": null}, "y": {"datum": 46.496, "type": "quantitative", "axis": null}}},
        {"mark": {"type": "text", "text": "= 0.50,", "font": "Liberation Serif", "fontSize": 46, "fontWeight": "bold", "align": "left", "baseline": "alphabetic", "color": "black"},
         "encoding": {"x": {"datum": 14.450, "type": "quantitative", "axis": null}, "y": {"datum": 46.528, "type": "quantitative", "axis": null}}},
        {"mark": {"type": "text", "text": "log N", "font": "Liberation Serif", "fontSize": 46, "align": "left", "baseline": "alphabetic", "color": "black"},
         "encoding": {"x": {"datum": 14.968, "type": "quantitative", "axis": null}, "y": {"datum": 46.528, "type": "quantitative", "axis": null}}},
        {"mark": {"type": "text", "text": "H", "font": "Liberation Serif", "fontSize": 33, "align": "left", "baseline": "alphabetic", "color": "black"},
         "encoding": {"x": {"datum": 15.317, "type": "quantitative", "axis": null}, "y": {"datum": 46.496, "type": "quantitative", "axis": null}}},
        {"mark": {"type": "text", "text": "=", "font": "Liberation Serif", "fontSize": 46, "align": "left", "baseline": "alphabetic", "color": "black"},
         "encoding": {"x": {"datum": 15.440, "type": "quantitative", "axis": null}, "y": {"datum": 46.528, "type": "quantitative", "axis": null}}},
        {"mark": {"type": "text", "text": "21.96", "font": "Liberation Serif", "fontSize": 46, "fontWeight": "bold", "align": "left", "baseline": "alphabetic", "color": "black"},
         "encoding": {"x": {"datum": 15.533, "type": "quantitative", "axis": null}, "y": {"datum": 46.528, "type": "quantitative", "axis": null}}},

        {"mark": {"type": "text", "text": "L", "font": "Liberation Serif", "fontSize": 46, "align": "left", "baseline": "alphabetic", "color": "black"},
         "encoding": {"x": {"datum": 12.243, "type": "quantitative", "axis": null}, "y": {"datum": 46.289, "type": "quantitative", "axis": null}}},
        {"mark": {"type": "text", "text": "bbb,dered", "font": "Liberation Serif", "fontSize": 33, "align": "left", "baseline": "alphabetic", "color": "black"},
         "encoding": {"x": {"datum": 12.345, "type": "quantitative", "axis": null}, "y": {"datum": 46.2615, "type": "quantitative", "axis": null}}},
        {"mark": {"type": "text", "text": "=", "font": "Liberation Serif", "fontSize": 46, "align": "left", "baseline": "alphabetic", "color": "black"},
         "encoding": {"x": {"datum": 12.864, "type": "quantitative", "axis": null}, "y": {"datum": 46.289, "type": "quantitative", "axis": null}}},
        {"mark": {"type": "text", "text": "44.2,", "font": "Liberation Serif", "fontSize": 46, "fontWeight": "bold", "align": "left", "baseline": "alphabetic", "color": "black"},
         "encoding": {"x": {"datum": 12.990, "type": "quantitative", "axis": null}, "y": {"datum": 46.289, "type": "quantitative", "axis": null}}},
        {"mark": {"type": "text", "text": "L", "font": "Liberation Serif", "fontSize": 46, "align": "left", "baseline": "alphabetic", "color": "black"},
         "encoding": {"x": {"datum": 13.329, "type": "quantitative", "axis": null}, "y": {"datum": 46.289, "type": "quantitative", "axis": null}}},
        {"mark": {"type": "text", "text": "tor", "font": "Liberation Serif", "fontSize": 33, "align": "left", "baseline": "alphabetic", "color": "black"},
         "encoding": {"x": {"datum": 13.426, "type": "quantitative", "axis": null}, "y": {"datum": 46.2615, "type": "quantitative", "axis": null}}},
        {"mark": {"type": "text", "text": "=", "font": "Liberation Serif", "fontSize": 46, "align": "left", "baseline": "alphabetic", "color": "black"},
         "encoding": {"x": {"datum": 13.595, "type": "quantitative", "axis": null}, "y": {"datum": 46.289, "type": "quantitative", "axis": null}}},
        {"mark": {"type": "text", "text": "43.91 ,", "font": "Liberation Serif", "fontSize": 46, "fontWeight": "bold", "align": "left", "baseline": "alphabetic", "color": "black"},
         "encoding": {"x": {"datum": 13.699, "type": "quantitative", "axis": null}, "y": {"datum": 46.289, "type": "quantitative", "axis": null}}},
        {"mark": {"type": "text", "text": "SFR =", "font": "Liberation Serif", "fontSize": 46, "align": "left", "baseline": "alphabetic", "color": "black"},
         "encoding": {"x": {"datum": 14.237, "type": "quantitative", "axis": null}, "y": {"datum": 46.289, "type": "quantitative", "axis": null}}},
        {"mark": {"type": "text", "text": "283.70", "font": "Liberation Serif", "fontSize": 46, "fontWeight": "bold", "align": "left", "baseline": "alphabetic", "color": "black"},
         "encoding": {"x": {"datum": 14.647, "type": "quantitative", "axis": null}, "y": {"datum": 46.289, "type": "quantitative", "axis": null}}}
      ]
    },
    {
      "data": {"name": "phot"},
      "mark": {"type": "circle", "size": 220, "color": "black", "opacity": 1},
      "encoding": {
        "x": {
          "field": "lognu", "type": "quantitative", "title": null,
          "scale": {"domain": [12, 16], "nice": false, "zero": false},
          "axis": {"orient": "top", "values": [12.5, 13, 13.5, 14, 14.5, 15, 15.5], "tickSize": -26, "labels": false, "grid": false, "title": null,
                   "domainColor": "black", "domainWidth": 5, "domainCap": "square", "tickColor": "black", "tickWidth": 4, "zindex": 1}
        },
        "y": {
          "field": "logL", "type": "quantitative", "title": null,
          "scale": {"domain": [42.85, 46.85], "nice": false, "zero": false},
          "axis": {"orient": "right",
                   "values": [42.90309, 42.95424, 43, 43.30103, 43.47712, 43.60206, 43.69897, 43.77815, 43.8451, 43.90309, 43.95424,
                              44, 44.30103, 44.47712, 44.60206, 44.69897, 44.77815, 44.8451, 44.90309, 44.95424,
                              45, 45.30103, 45.47712, 45.60206, 45.69897, 45.77815, 45.8451, 45.90309, 45.95424,
                              46, 46.30103, 46.47712, 46.60206, 46.69897, 46.77815, 46.8451],
                   "tickSize": {"condition": {"test": "abs(datum.value - round(datum.value)) < 0.001", "value": -25}, "value": -13},
                   "labels": false, "grid": false, "title": null,
                   "domainColor": "black", "domainWidth": 5, "domainCap": "square", "tickColor": "black", "tickWidth": 4, "zindex": 1}
        }
      }
    }
  ],
  "resolve": {"axis": {"x": "independent", "y": "independent"}}
}
